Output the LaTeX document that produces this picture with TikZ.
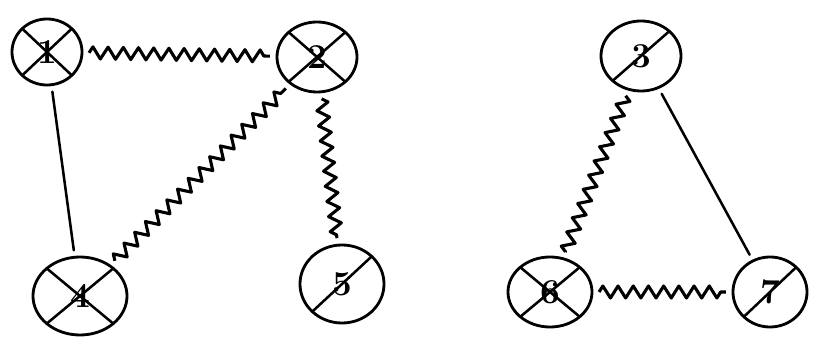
\documentclass[tikz,border=0pt]{standalone}
\usetikzlibrary{shapes.geometric,decorations.pathmorphing}
\tikzset{
  vert/.style={ellipse,draw,line width=2pt,minimum width=2cm,minimum height=1.75cm,
    inner sep=0pt,outer sep=5pt,font=\Huge\bfseries,
    path picture={\draw[line width=1.8pt] (path picture bounding box.south west) -- (path picture bounding box.north east);}},
  crossed/.style={path picture={\draw[line width=1.8pt] (path picture bounding box.south west) -- (path picture bounding box.north east);
    \draw[line width=1.8pt] (path picture bounding box.north west) -- (path picture bounding box.south east);}},
  plain/.style={line width=1.8pt,line cap=round},
  wavy/.style={line width=2.2pt,line join=round,decorate,decoration={zigzag,segment length=0.38cm,amplitude=0.15cm}}
}
\begin{document}
\begin{tikzpicture}[x=0.025cm,y=-0.025cm]
\useasboundingbox (0,0) rectangle (817,360);

% left component
\node[vert,crossed,minimum width=1.75cm,minimum height=1.65cm] (n1) at (47,52) {1};
\node[vert,crossed] (n2) at (317,57) {2};
\node[vert,crossed,minimum width=2.35cm,minimum height=1.95cm] (n4) at (80,296) {4};
\node[vert,minimum width=2.1cm,minimum height=1.95cm] (n5) at (342,284) {5};

\draw[wavy] (n1) -- (n2);
\draw[plain] (n1) -- (n4);
\draw[wavy] (n4) -- (n2);
\draw[wavy] (n2) -- (n5);

% right component
\node[vert] (n3) at (641,56) {3};
\node[vert,crossed,minimum width=2.1cm] (n6) at (550,292) {6};
\node[vert,minimum width=1.85cm] (n7) at (770,292) {7};

\draw[wavy] (n3) -- (n6);
\draw[plain] (n3) -- (n7);
\draw[wavy] (n6) -- (n7);
\end{tikzpicture}
\end{document}
